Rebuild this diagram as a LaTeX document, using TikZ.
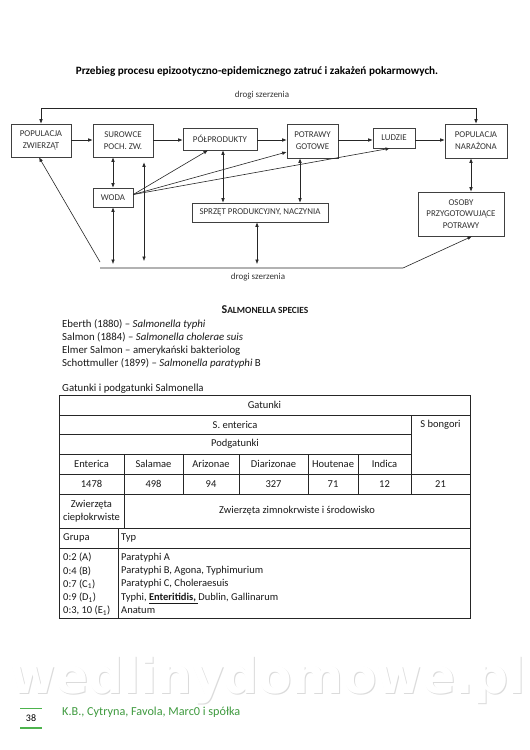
\documentclass[tikz,border=0pt]{standalone}
\usepackage{fontspec}
\setmainfont{Carlito}
\newfontfamily\wmfont{DejaVu Sans}
\usetikzlibrary{arrows.meta,calc}
\definecolor{footgreen}{HTML}{3E9A3E}
\definecolor{bargreen}{HTML}{4DB34D}
\begin{document}
\begin{tikzpicture}[x=1pt,y=-1pt,
 box/.style={draw=black!75, line width=0.6pt, fill=white, align=center,
   font=\fontsize{8.9}{12}\selectfont, text=black!80, inner sep=0pt},
 arr/.style={-{Latex[length=4.5pt,width=3.6pt]}, line width=0.6pt, draw=black!85},
 dbl/.style={{Latex[length=4.5pt,width=3.6pt]}-{Latex[length=4.5pt,width=3.6pt]}, line width=0.6pt, draw=black!85},
 lbl/.style={font=\fontsize{9}{10}\selectfont, text=black!80, inner sep=0pt},
 tline/.style={line width=0.8pt, draw=black!85},
 ttext/.style={font=\fontsize{10.5}{12}\selectfont, text=black!90, inner sep=0pt},
 body/.style={font=\fontsize{10.8}{12}\selectfont, text=black!90, inner sep=0pt, anchor=west},
]
\useasboundingbox[fill=white] (0,0) rectangle (530,750);

% title
\node[font=\fontsize{11.2}{13}\selectfont\bfseries, inner sep=0pt] (title) at (257,72)
  {Przebieg procesu epizootyczno-epidemicznego zatruć i zakażeń pokarmowych.};

% boxes
\node[box, minimum width=60pt, minimum height=33pt] (popz) at (41,140.5) {POPULACJA\\ZWIERZĄT};
\node[box, minimum width=60pt, minimum height=33pt] (sur) at (123,140.5) {SUROWCE\\POCH. ZW.};
\node[box, minimum width=74pt, minimum height=22pt] (polp) at (220,139) {PÓŁPRODUKTY};
\node[box, minimum width=51pt, minimum height=34pt] (potr) at (312.5,141) {POTRAWY\\GOTOWE};
\node[box, minimum width=42pt, minimum height=20pt] (ludz) at (394,138) {LUDZIE};
\node[box, minimum width=62pt, minimum height=34pt] (popn) at (476,141) {POPULACJA\\NARAŻONA};
\node[box, minimum width=40pt, minimum height=19pt] (woda) at (113,197.5) {WODA};
\node[box, minimum width=136pt, minimum height=19pt] (sprz) at (260,212.5) {SPRZĘT PRODUKCYJNY, NACZYNIA};
\node[box, minimum width=86pt, minimum height=44pt, font=\fontsize{8.9}{11.5}\selectfont] (osob) at (461,214) {OSOBY\\PRZYGOTOWUJĄCE\\POTRAWY};

% labels
\node[lbl] (ltop) at (262,95) {drogi szerzenia};
\node[lbl] (lbot) at (258,277) {drogi szerzenia};

% route coordinates
\coordinate (hy) at (0,140);
\coordinate (tl) at (41,108);
\coordinate (tr) at (476,108);
\coordinate (bl) at (100,268);
\coordinate (br) at (403,268);
\coordinate (dl) at (100,262);
\coordinate (vs) at ($(sur.south)+(21,0)$);
\coordinate (vp) at ($(polp.south)+(3,0)$);
\coordinate (vt) at ($(potr.south)+(-12.5,0)$);
\coordinate (vq) at ($(sprz.south)+(-3,0)$);
\coordinate (vn) at ($(popn.south)+(-5,0)$);
\coordinate (ob) at ($(osob.south)+(11,0)$);
\coordinate (pz) at ($(popz.south)+(-2,0)$);
\coordinate (wf) at ($(woda.east)+(0,-3)$);
\coordinate (fp) at ($(polp.south)+(-12,0)$);
\coordinate (ft2) at ($(potr.west)+(0,11)$);
\coordinate (fl) at ($(ludz.south)+(-4,0)$);

% main chain
\draw[arr] (popz.east |- hy) -- (sur.west |- hy);
\draw[arr] (sur.east |- hy) -- (polp.west |- hy);
\draw[arr] (polp.east |- hy) -- (potr.west |- hy);
\draw[arr] (potr.east |- hy) -- (ludz.west |- hy);
\draw[arr] (ludz.east |- hy) -- (popn.west |- hy);

% top route
\draw[arr] (tl) -- (popz.north);
\draw[arr] (tl) -- (tr) -- (popn.north);

% bottom route
\draw[arr] (bl) -- (br) -- (ob);
\draw[arr] (dl) -- (pz);

% verticals
\draw[dbl] (woda.north) -- (woda.north |- sur.south);
\draw[dbl, shorten >=4pt] (woda.south) -- (woda.south |- bl);
\draw[dbl, shorten <=5pt, shorten >=7pt] (vs) -- (vs |- bl);
\draw[dbl] (vp) -- (vp |- sprz.north);
\draw[dbl] (vt) -- (vt |- sprz.north);
\draw[dbl, shorten >=4pt] (vq) -- (vq |- bl);
\draw[dbl] (vn) -- (vn |- osob.north);

% fan from WODA
\draw[arr] (wf) -- (fp);
\draw[arr] (wf) -- (ft2);
\draw[arr] (wf) -- (fl);

% Salmonella section
\node[inner sep=0pt, font=\bfseries, text=black!90] (sspec) at (265,310)
  {{\fontsize{12}{13}\selectfont S}{\fontsize{9.4}{13}\selectfont ALMONELLA SPECIES}};
\node[body] (l1) at (62,324) {Eberth (1880) – \textit{Salmonella typhi}};
\node[body] (l2) at (62,337.5) {Salmon (1884) – \textit{Salmonella cholerae suis}};
\node[body] (l3) at (62,350.5) {Elmer Salmon – amerykański bakteriolog};
\node[body] (l4) at (62,363.5) {Schottmuller (1899) – \textit{Salmonella paratyphi} B};
\node[body] (l5) at (62,389) {Gatunki i podgatunki Salmonella};

% table
\draw[tline] (59,395) rectangle (470,618);
\draw[tline] (59,415) -- (470,415);
\draw[tline] (59,434) -- (411,434);
\draw[tline] (59,454) -- (411,454);
\draw[tline] (59,474) -- (470,474);
\draw[tline] (59,494) -- (470,494);
\draw[tline] (59,528) -- (470,528);
\draw[tline] (59,548) -- (470,548);
\draw[tline] (411,415) -- (411,494);
\draw[tline] (124,454) -- (124,528);
\draw[tline] (183,454) -- (183,494);
\draw[tline] (239,454) -- (239,494);
\draw[tline] (308,454) -- (308,494);
\draw[tline] (358,454) -- (358,494);
\draw[tline] (118,528) -- (118,618);

\node[ttext] (tgat) at (264.5,405) {Gatunki};
\node[ttext] (tent) at (235,424.5) {S. enterica};
\node[ttext] (tbon) at (440.5,425) {S bongori};
\node[ttext] (tpod) at (235,444) {Podgatunki};
\node[ttext] (n1) at (91.5,464) {Enterica};
\node[ttext] (n2) at (153.5,464) {Salamae};
\node[ttext] (n3) at (211,464) {Arizonae};
\node[ttext] (n4) at (273.5,464) {Diarizonae};
\node[ttext] (n5) at (333,464) {Houtenae};
\node[ttext] (n6) at (384.5,464) {Indica};
\node[ttext] (c1) at (91.5,484) {1478};
\node[ttext] (c2) at (153.5,484) {498};
\node[ttext] (c3) at (211,484) {94};
\node[ttext] (c4) at (273.5,484) {327};
\node[ttext] (c5) at (333,484) {71};
\node[ttext] (c6) at (384.5,484) {12};
\node[ttext] (c7) at (440.5,484) {21};
\node[ttext, align=center, font=\fontsize{10.5}{12.5}\selectfont] (zc) at (91.5,511) {Zwierzęta\\ciepłokrwiste};
\node[ttext] (zz) at (297,511) {Zwierzęta zimnokrwiste i środowisko};
\node[ttext, anchor=west] (grp) at (63,538) {Grupa};
\node[ttext, anchor=west] (typ) at (121,538) {Typ};
\node[ttext, anchor=north west, align=left, font=\fontsize{10.5}{13.2}\selectfont] (gl) at (63,553)
  {0:2 (A)\\0:4 (B)\\0:7 (C\textsubscript{1})\\0:9 (D\textsubscript{1})\\0:3, 10 (E\textsubscript{1})};
\node[ttext, anchor=north west, align=left, font=\fontsize{10.5}{13.2}\selectfont] (tl2) at (121,553)
  {Paratyphi A\\Paratyphi B, Agona, Typhimurium\\Paratyphi C, Choleraesuis\\Typhi, \underline{\textbf{Enteritidis,}\ }Dublin, Gallinarum\\Anatum};

% watermark
\node[inner sep=0pt, text=black!14] (wms) at (269,681.5) {\resizebox{515pt}{!}{\wmfont\bfseries wedlinydomowe.pl}};
\node[inner sep=0pt, text=white] (wm) at (268,680) {\resizebox{515pt}{!}{\wmfont\bfseries wedlinydomowe.pl}};

% footer
\draw[bargreen, line width=0.7pt] (20,708) -- (42,708);
\draw[bargreen, line width=2pt] (20,728) -- (42,728);
\node[inner sep=0pt, font=\fontsize{10}{12}\selectfont] (pg) at (31,718) {38};
\node[inner sep=0pt, anchor=west, font=\fontsize{12.2}{14}\selectfont, text=footgreen] (ft) at (62,712) {K.B., Cytryna, Favola, Marc0 i spółka};
\end{tikzpicture}
\end{document}
